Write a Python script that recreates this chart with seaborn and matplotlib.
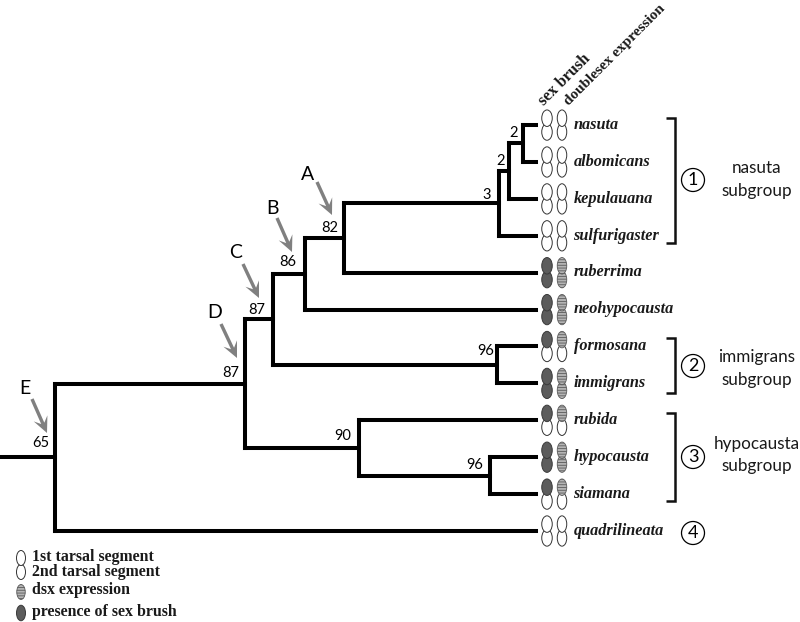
import matplotlib
matplotlib.use("Agg")
import matplotlib.pyplot as plt
from matplotlib.patches import Ellipse, Circle
import numpy as np
import pandas as pd
import seaborn as sns

# ---- data -------------------------------------------------------------
species = ["nasuta", "albomicans", "kepulauana", "sulfurigaster", "ruberrima",
           "neohypocausta", "formosana", "immigrans", "rubida", "hypocausta",
           "siamana", "quadrilineata"]
# number of tarsal segments carrying the trait, counted from the first
sex_brush_segments = [0, 0, 0, 0, 2, 2, 1, 2, 1, 2, 1, 0]
dsx_segments = [0, 0, 0, 0, 2, 2, 1, 2, 1, 2, 1, 0]

# tree: (depth, support, children); leaves are species indices
tree = (55, "65", [
    (245, "87", [
        (273, "87", [
            (305, "86", [
                (344, "82", [
                    (499, "3", [
                        (509, "2", [
                            (523, "2", [0, 1]),
                            2]),
                        3]),
                    4]),
                5]),
            (497, "96", [6, 7])]),
        (359, "90", [
            8,
            (490, "96", [9, 10])])]),
    11])
root_start = 1
tip_depth = 536
first_leaf = 125.0
leaf_step = 36.9

support_labels = [("82", 330, 228), ("86", 288, 262), ("87", 257, 310), ("87", 231, 373),
                  ("65", 41, 443), ("90", 343, 436), ("96", 486, 351), ("96", 475, 465),
                  ("3", 487, 195), ("2", 501, 161), ("2", 514, 133)]
arrows = [("A", 308, 175, 317, 182, 332, 215), ("B", 272, 209, 277, 218, 292, 252),
          ("C", 236, 252, 243, 264, 259, 298), ("D", 215, 313, 221, 324, 237, 358),
          ("E", 25, 388, 32, 399, 47, 433)]
brackets = [(118, 243), (338, 393), (413, 501)]
groups = [("1", 180, "nasuta\nsubgroup", 179.5), ("2", 366, "immigrans\nsubgroup", 368.5),
          ("3", 457, "hypocausta\nsubgroup", 455), ("4", 533, None, None)]

# ---- figure -----------------------------------------------------------
sns.set_theme(style="white")
plt.rcParams["hatch.linewidth"] = 0.6
fig = plt.figure(figsize=(8.0, 6.22), dpi=100)
ax = fig.add_axes([0, 0, 1, 1])
ax.set_xlim(0, 800)
ax.set_ylim(622, 0)
ax.axis("off")

SANS = "Lato"
SERIF = "Liberation Serif"
SERIF_SIZE = 11.7

# ---- tree -------------------------------------------------------------
rows = []
def add(x0, y0, x1, y1):
    i = len(rows) // 2
    rows.append(dict(x=x0, y=y0, seg=i))
    rows.append(dict(x=x1, y=y1, seg=i))

def walk(node, parent_x):
    if isinstance(node, int):
        y = first_leaf + leaf_step * node
        add(parent_x, y, tip_depth, y)
        return y
    depth, _, kids = node
    ys = [walk(k, depth) for k in kids]
    y = (ys[0] + ys[-1]) / 2
    add(depth, ys[0], depth, ys[-1])
    add(parent_x, y, depth, y)
    return y

walk(tree, root_start)
branches = pd.DataFrame(rows)
sns.lineplot(data=branches, x="x", y="y", units="seg", estimator=None, sort=False,
             color="black", lw=2.9, solid_capstyle="projecting", ax=ax, legend=False)
ax.set_xlim(0, 800)
ax.set_ylim(622, 0)
ax.axis("off")

for txt, x, y in support_labels:
    ax.text(x, y, txt, family=SANS, fontsize=10.5, color="black", ha="center", va="center")

# ---- ovals ------------------------------------------------------------
DARK = "#5c5c5c"
def brush(cx, cy, filled, w=10.5, h=16.5):
    ax.add_patch(Ellipse((cx, cy), w, h, fc=DARK if filled else "white",
                         ec="#3a3a3a" if filled else "#333333", lw=0.7, zorder=3))

def dsx(cx, cy, filled, w=9.5, h=16.5):
    if filled:
        ax.add_patch(Ellipse((cx, cy), w, h, fc="#b4b4b4", ec="#5a5a5a",
                             hatch="------", lw=0.6, zorder=3))
    else:
        ax.add_patch(Ellipse((cx, cy), w, h, fc="white", ec="#333333", lw=0.7, zorder=3))

for i, name in enumerate(species):
    y = first_leaf + leaf_step * i
    for k, off in enumerate((7.0, -6.8)):
        idx = 1 - k
        brush(547, y + off, idx < sex_brush_segments[i])
        dsx(562, y + off, idx < dsx_segments[i])
    ax.text(573.5, y - 0.2, name, family=SERIF, style="italic", weight="bold",
            fontsize=SERIF_SIZE, color="#1a1a1a", ha="left", va="center")

ax.text(544, 106, "sex brush", family=SERIF, weight="bold", fontsize=SERIF_SIZE, color="#1a1a1a",
        rotation=45, rotation_mode="anchor", ha="left", va="baseline")
ax.text(569, 106, "doublesex expression", family=SERIF, weight="bold", fontsize=11.0, color="#1a1a1a",
        rotation=45, rotation_mode="anchor", ha="left", va="baseline")

# ---- brackets and groups ----------------------------------------------
for top, bottom in brackets:
    ax.plot([666, 675, 675, 666], [top, top, bottom, bottom], color="#111111", lw=1.8,
            solid_joinstyle="miter", solid_capstyle="butt")
for num, cy, label, ly in groups:
    ax.add_patch(Circle((693, cy), 11.5, fc="white", ec="black", lw=0.9))
    ax.text(693, cy, num, family=SANS, fontsize=13, color="black", ha="center", va="center")
    if label:
        ax.text(757, ly, label, family=SANS, fontsize=12.3, color="#1a1a1a",
                ha="center", va="center", linespacing=1.5)

# ---- arrows -----------------------------------------------------------
def stealth(x0, y0, x1, y1, shaft=3.4, head_w=15, head_l=16, notch=5.5):
    p0, p1 = np.array([x0, y0], float), np.array([x1, y1], float)
    d = (p1 - p0) / np.linalg.norm(p1 - p0)
    n = np.array([-d[1], d[0]])
    base = p1 - d * (head_l - notch)
    back = p1 - d * head_l
    pts = [p0 + n * shaft / 2, base + n * shaft / 2, back + n * head_w / 2, p1,
           back - n * head_w / 2, base - n * shaft / 2, p0 - n * shaft / 2]
    ax.fill(*zip(*pts), color="#808080", lw=0)

for letter, lx, ly, x0, y0, x1, y1 in arrows:
    ax.text(lx, ly, letter, family=SANS, fontsize=14, color="black", ha="center", va="center")
    stealth(x0, y0, x1, y1)

# ---- key --------------------------------------------------------------
brush(21, 572, False, w=9, h=15)
brush(21, 558, False, w=9, h=15)
dsx(21, 592, True, w=8.5, h=15)
brush(21, 613, True, w=9, h=15.5)
for txt, y in [("1st tarsal segment", 557), ("2nd tarsal segment", 571.5),
               ("dsx expression", 590), ("presence of sex brush", 612)]:
    ax.text(32, y, txt, family=SERIF, weight="bold", fontsize=SERIF_SIZE - 0.3, color="#1a1a1a",
            ha="left", va="center")

fig.savefig("out.png", dpi=100)
